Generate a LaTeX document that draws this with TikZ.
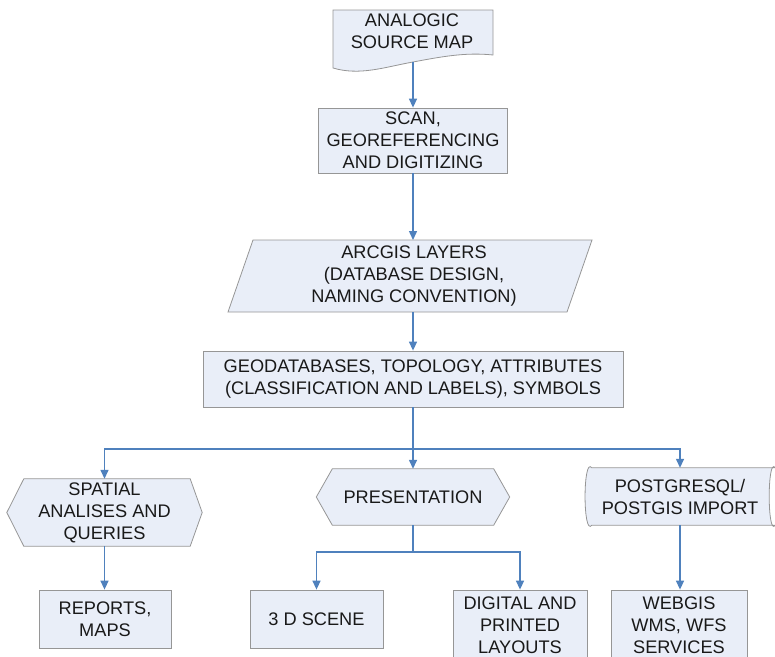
\documentclass[tikz,border=0pt]{standalone}
\usepackage{fontspec}
\setmainfont{Liberation Sans}
\usetikzlibrary{arrows.meta,backgrounds,calc}
\definecolor{boxfill}{RGB}{233,238,248}
\definecolor{boxline}{RGB}{150,150,150}
\definecolor{arrowblue}{RGB}{79,129,189}
\begin{document}
\begin{tikzpicture}[x=1pt,y=-1pt,
  txt/.style={align=center, font=\fontsize{18.2}{22}\selectfont, inner sep=0pt, text=black!90},
  box/.style={txt, draw=boxline, fill=boxfill, line width=0.8pt},
  outline/.style={draw=boxline, fill=boxfill, line width=0.8pt},
  arr/.style={draw=arrowblue, line width=1.4pt, -{Triangle[length=9pt,width=8pt]}},
  conn/.style={draw=arrowblue, line width=1.4pt}]
\useasboundingbox (0,0) rectangle (775,656);

% top document shape
\node[txt] (doc) at (412,31) {ANALOGIC\\SOURCE MAP};
\coordinate (docb) at (413,62);

\node[box, minimum width=189pt, minimum height=65pt] (scan) at (413,140.5) {SCAN,\\GEOREFERENCING\\AND DIGITIZING};

% parallelogram
\node[txt] (arc) at (414,276) {ARCGIS LAYERS\\(DATABASE DESIGN,\\NAMING CONVENTION)};
\coordinate (arct) at (413,240);
\coordinate (arcb) at (413,312);

\node[box, minimum width=420pt, minimum height=56pt] (geo) at (413,379) {GEODATABASES, TOPOLOGY, ATTRIBUTES\\(CLASSIFICATION AND LABELS), SYMBOLS};

\node[txt, minimum width=195pt, minimum height=67pt] (spatial) at (104.5,512.5) {SPATIAL\\ANALISES AND\\QUERIES};
\node[txt, minimum width=193pt, minimum height=56pt] (pres) at (413,497) {PRESENTATION};
\node[txt, minimum width=190pt, minimum height=57pt] (pg) at (680,496.5) {POSTGRESQL/\\POSTGIS IMPORT};

\node[box, minimum width=132pt, minimum height=58pt] (reports) at (105,619) {REPORTS,\\MAPS};
\node[box, minimum width=133pt, minimum height=58pt] (scene) at (316.5,619) {3 D SCENE};
\node[box, minimum width=134pt, minimum height=70pt] (digital) at (520,625) {DIGITAL AND\\PRINTED\\LAYOUTS};
\node[box, minimum width=136pt, minimum height=70pt] (webgis) at (679,625) {WEBGIS\\WMS, WFS\\SERVICES};

\begin{scope}[on background layer]
\path[outline] (333,10) -- (493,10) -- (493,55) .. controls (465,52) and (440,57) .. (413,62) .. controls (385,67) and (360,76) .. (333,68) -- cycle;
\path[outline] (253,240) -- (592,240) -- (567,312) -- (228,312) -- cycle;
\path[outline] (spatial.west) -- ([xshift=17pt]spatial.north west) -- ([xshift=-12pt]spatial.north east) -- (spatial.east) -- ([xshift=-12pt]spatial.south east) -- ([xshift=17pt]spatial.south west) -- cycle;
\path[outline] (pres.west) -- ([xshift=16pt]pres.north west) -- ([xshift=-16pt]pres.north east) -- (pres.east) -- ([xshift=-16pt]pres.south east) -- ([xshift=16pt]pres.south west) -- cycle;
\path[outline] ([xshift=7pt]pg.north west) -- (pg.north east) .. controls ([xshift=-8pt,yshift=12pt]pg.north east) and ([xshift=-8pt,yshift=-12pt]pg.south east) .. (pg.south east) -- ([xshift=7pt]pg.south west) .. controls ([xshift=-2pt,yshift=-12pt]pg.south west) and ([xshift=-2pt,yshift=12pt]pg.north west) .. ([xshift=7pt]pg.north west) -- cycle;
\end{scope}

% connectors
\draw[arr] (docb) -- (scan.north);
\draw[arr] (scan.south) -- (arct);
\draw[arr] (arcb) -- (geo.north);
\coordinate (bus) at (413,449);
\draw[conn] (geo.south) -- (bus);
\draw[arr] (bus) -| (spatial.north);
\draw[arr] (bus) -- (pres.north);
\draw[arr] (bus) -| (pg.north);
\draw[arr] (spatial.south) -- (spatial.south |- reports.north);
\coordinate (bus2) at (413,552);
\draw[conn] (pres.south) -- (bus2);
\draw[arr] (bus2) -| (scene.north);
\draw[arr] (bus2) -| (digital.north);
\draw[arr] (pg.south) -- (pg.south |- webgis.north);
\end{tikzpicture}
\end{document}
